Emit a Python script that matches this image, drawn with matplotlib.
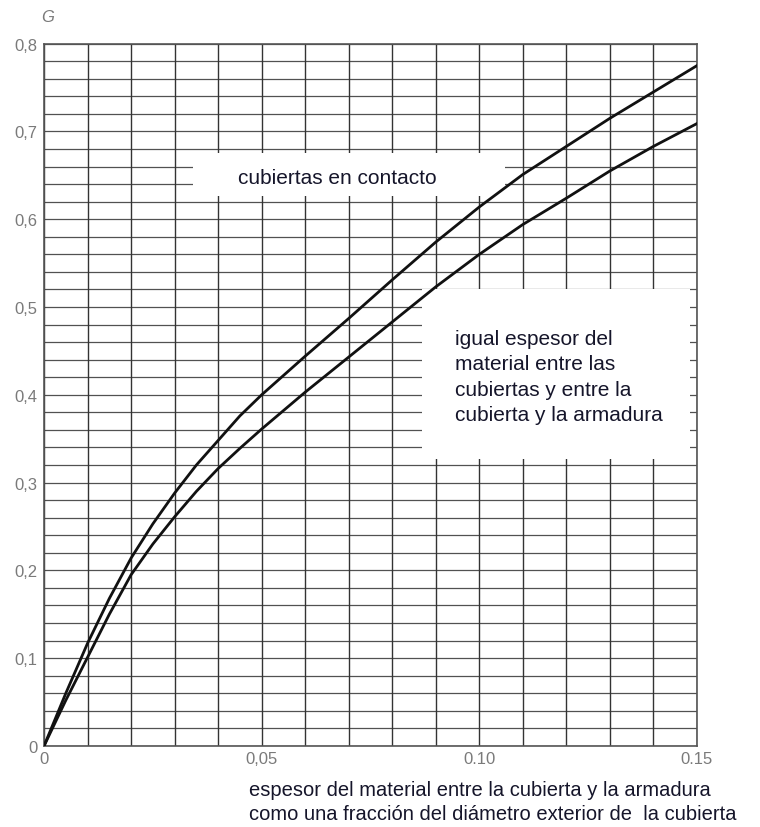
"""
plot.py — Factor G vs. relative thickness of material between sheath and armour.
"""

import matplotlib
matplotlib.use("Agg")
import matplotlib.pyplot as plt
import matplotlib.patches as patches
import matplotlib.ticker as ticker

plt.rcParams["font.family"] = ["Liberation Sans", "DejaVu Sans"]

# --- Data ---
x_vals = [0.0, 0.005, 0.01, 0.015, 0.02, 0.025, 0.03, 0.035, 0.04, 0.045,
          0.05, 0.06, 0.07, 0.08, 0.09, 0.10, 0.11, 0.12, 0.13, 0.14, 0.15]
g_contact = [0.0, 0.060, 0.117, 0.168, 0.214, 0.253, 0.288, 0.320, 0.348,
             0.376, 0.400, 0.444, 0.487, 0.531, 0.574, 0.614, 0.651, 0.683,
             0.715, 0.745, 0.775]
g_equal = [0.0, 0.052, 0.101, 0.150, 0.195, 0.230, 0.261, 0.290, 0.316,
           0.339, 0.361, 0.403, 0.443, 0.483, 0.523, 0.560, 0.594, 0.624,
           0.655, 0.683, 0.709]

x_ticks = [0.0, 0.05, 0.10, 0.15]
x_tick_labels = ["0", "0,05", "0.10", "0.15"]
y_ticks = [0.0, 0.1, 0.2, 0.3, 0.4, 0.5, 0.6, 0.7, 0.8]
y_tick_labels = ["0", "0,1", "0,2", "0,3", "0,4", "0,5", "0,6", "0,7", "0,8"]

label_contact = "cubiertas en contacto"
label_equal = ("igual espesor del\nmaterial entre las\n"
               "cubiertas y entre la\ncubierta y la armadura")
x_label = ("espesor del material entre la cubierta y la armadura\n"
           "como una fracción del diámetro exterior de  la cubierta")

TEXT_COLOR = "#15152a"
TICK_COLOR = "#7a7a7a"
GRID_COLOR = "#333333"

fig = plt.figure(figsize=(7.6, 8.28), dpi=100)
ax = fig.add_axes([0.058, 0.098, 0.859, 0.848])

# --- Grid: every 0.01 along x, every 0.02 along y ---
ax.set_xlim(0, 0.15)
ax.set_ylim(0, 0.8)
ax.xaxis.set_major_locator(ticker.FixedLocator(x_ticks))
ax.xaxis.set_minor_locator(ticker.MultipleLocator(0.01))
ax.yaxis.set_major_locator(ticker.FixedLocator(y_ticks))
ax.yaxis.set_minor_locator(ticker.MultipleLocator(0.02))
ax.set_xticklabels(x_tick_labels)
ax.set_yticklabels(y_tick_labels)
ax.set_axisbelow(True)
ax.grid(True, which="both", axis="x", color=GRID_COLOR, linewidth=1.0)
ax.grid(True, which="both", axis="y", color=GRID_COLOR, linewidth=0.9,
        alpha=0.85)
ax.tick_params(which="both", length=0, labelsize=12, labelcolor=TICK_COLOR)
ax.tick_params(axis="x", pad=4)
ax.tick_params(axis="y", pad=5)
for spine in ax.spines.values():
    spine.set_color("#555555")
    spine.set_linewidth(1.2)

# --- White label boxes covering the grid ---
ax.add_patch(patches.Rectangle((0.0342, 0.626), 0.0717, 0.049,
                               facecolor="white", edgecolor="none", zorder=1))
ax.add_patch(patches.Rectangle((0.0868, 0.327), 0.0616, 0.194,
                               facecolor="white", edgecolor="none", zorder=1))

# --- Curves ---
ax.plot(x_vals, g_contact, color="#111111", linewidth=2.0, zorder=3)
ax.plot(x_vals, g_equal, color="#111111", linewidth=2.0, zorder=3)

ax.text(0.0446, 0.648, label_contact, fontsize=15, color=TEXT_COLOR,
        va="center", ha="left", zorder=4)
ax.text(0.0944, 0.421, label_equal, fontsize=15, color=TEXT_COLOR,
        va="center", ha="left", linespacing=1.42, zorder=4)

fig.text(0.063, 0.979, "G", fontsize=12, color=TICK_COLOR, style="italic",
         ha="center", va="center")
fig.text(0.327, 0.0565, x_label, fontsize=14.5, color=TEXT_COLOR,
         ha="left", va="top", linespacing=1.32)

fig.savefig("out.png", dpi=100)
plt.close(fig)
